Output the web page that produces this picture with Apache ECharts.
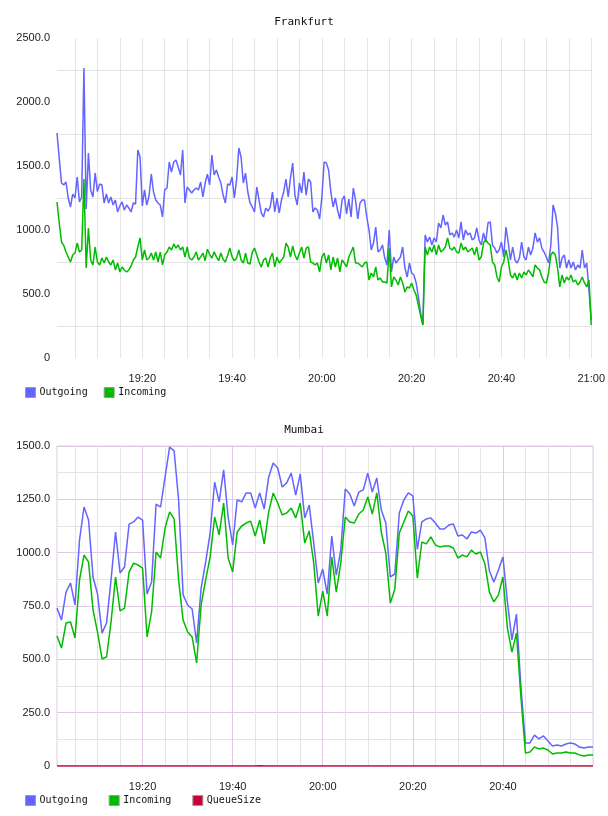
<!DOCTYPE html>
<html lang="en">
<head>
    <meta charset="UTF-8">
    <title>Frankfurt / Mumbai</title>
    <script src="https://cdn.jsdelivr.net/npm/echarts@6/dist/echarts.min.js"></script>
    <style>
        body { margin: 0; background: #fff; }
        .box { width: 608px; height: 408px; }
    </style>
</head>
<body>
<div id="main" class="box"></div>
<div id="main1" class="box"></div>
<script type="text/javascript">
    // minutes since midnight, 19:01 .. 21:00
    var xStart = 1141, xEnd = 1260;
    var timeLabels = [1160, 1180, 1200, 1220, 1240, 1260];
    var minorTimes = [1145, 1150, 1155, 1160, 1165, 1170, 1175, 1180, 1185, 1190, 1195, 1200, 1205, 1210, 1215, 1220, 1225, 1230, 1235, 1240, 1245, 1250, 1255, 1260];
    var majorTimes = [1160, 1180, 1200, 1220, 1240];

    // Frankfurt, one sample every 30 s
    var frankfurtStep = 0.5;
    var frankfurtOutgoing = [
        1758, 1560, 1367, 1352, 1375, 1250, 1180, 1281, 1250, 1414, 1219, 1258, 2266, 1164, 1602, 1313, 1258, 1445, 1300, 1359,
        1352, 1211, 1281, 1211, 1258, 1195, 1234, 1141, 1188, 1219, 1156, 1195, 1172, 1141, 1211, 1203, 1625, 1570, 1188, 1313,
        1195, 1266, 1437, 1297, 1234, 1211, 1195, 1102, 1313, 1328, 1531, 1453, 1531, 1547, 1492, 1430, 1625, 1211, 1336, 1313,
        1289, 1313, 1328, 1313, 1375, 1258, 1367, 1437, 1352, 1586, 1430, 1469, 1414, 1367, 1273, 1211, 1359, 1352, 1414, 1250,
        1391, 1641, 1570, 1367, 1445, 1297, 1211, 1180, 1141, 1336, 1234, 1133, 1102, 1170, 1148, 1180, 1297, 1141, 1250, 1133,
        1234, 1297, 1398, 1258, 1406, 1523, 1273, 1195, 1367, 1289, 1453, 1273, 1398, 1375, 1141, 1172, 1156, 1086, 1258, 1531,
        1523, 1469, 1297, 1180, 1250, 1156, 1086, 1234, 1266, 1125, 1242, 1102, 1328, 1234, 1086, 1211, 1234, 1234, 1102, 1000,
        844, 898, 1023, 828, 844, 883, 781, 727, 1000, 672, 789, 742, 766, 789, 867, 703, 633, 742, 664, 648,
        586, 477, 350, 258, 961, 906, 945, 883, 938, 906, 1055, 1016, 1117, 1039, 1063, 961, 977, 945, 1000, 938,
        1063, 922, 1000, 961, 977, 922, 938, 1016, 922, 883, 977, 906, 1055, 1063, 883, 859, 820, 844, 906, 789,
        1023, 906, 766, 867, 766, 742, 781, 906, 789, 766, 867, 805, 859, 977, 906, 938, 859, 828, 789, 742,
        883, 1195, 1133, 1023, 703, 781, 805, 703, 766, 703, 750, 688, 727, 703, 844, 703, 742, 531, 297
    ];
    var frankfurtIncoming = [
        1219, 1055, 906, 880, 828, 789, 750, 805, 820, 898, 828, 844, 1398, 703, 1016, 766, 727, 867, 750, 727,
        781, 742, 789, 750, 727, 766, 688, 742, 672, 711, 688, 672, 688, 719, 766, 789, 867, 938, 766, 844,
        766, 781, 820, 766, 828, 750, 828, 727, 805, 828, 867, 844, 891, 859, 883, 844, 867, 789, 867, 781,
        766, 789, 828, 766, 790, 820, 760, 850, 810, 780, 830, 790, 760, 820, 770, 750, 800, 860, 790, 760,
        780, 844, 766, 742, 820, 742, 734, 828, 859, 805, 750, 711, 766, 781, 711, 781, 820, 711, 789, 742,
        766, 789, 898, 867, 789, 875, 805, 766, 820, 867, 781, 859, 867, 750, 742, 727, 742, 672, 789, 820,
        742, 805, 688, 789, 711, 781, 672, 766, 742, 711, 789, 828, 867, 742, 742, 727, 711, 742, 750, 609,
        664, 633, 711, 609, 625, 594, 594, 586, 859, 555, 633, 609, 570, 633, 586, 516, 555, 547, 586, 531,
        492, 414, 330, 258, 867, 805, 867, 828, 883, 805, 883, 828, 844, 867, 938, 859, 844, 867, 828, 820,
        898, 844, 867, 828, 844, 859, 805, 867, 766, 789, 898, 922, 898, 883, 750, 727, 633, 594, 711, 750,
        844, 766, 648, 625, 664, 609, 664, 625, 672, 648, 688, 664, 633, 727, 703, 688, 633, 594, 586, 664,
        805, 828, 805, 703, 555, 648, 586, 633, 609, 648, 594, 609, 570, 594, 633, 586, 555, 609, 258
    ];

    // Mumbai, one sample per minute
    var mumbaiStep = 1;
    var mumbaiOutgoing = [
        740, 684, 815, 858, 755, 1059, 1214, 1153, 886, 806, 623, 670, 872, 1097, 905, 933, 1134, 1144, 1167, 1153,
        806, 862, 1228, 1214, 1355, 1495, 1477, 1247, 802, 755, 736, 577, 834, 956, 1092, 1331, 1238, 1388, 1167, 1036,
        1247, 1238, 1280, 1280, 1209, 1280, 1205, 1355, 1420, 1397, 1308, 1327, 1373, 1270, 1369, 1163, 1223, 1045, 858, 923,
        806, 1078, 895, 1012, 1298, 1275, 1219, 1284, 1294, 1373, 1284, 1350, 1200, 1139, 886, 900, 1186, 1247, 1280, 1266,
        1015, 1144, 1158, 1163, 1139, 1111, 1111, 1130, 1134, 1078, 1083, 1064, 1097, 1092, 1106, 1069, 914, 862, 919, 980,
        769, 591, 712, 370, 108, 108, 145, 127, 141, 117, 94, 98, 94, 103, 108, 103, 89, 84, 89, 89
    ];
    var mumbaiIncoming = [
        609, 553, 670, 675, 600, 872, 989, 956, 731, 628, 502, 511, 675, 886, 727, 740, 909, 951, 942, 928,
        605, 722, 1003, 975, 1116, 1191, 1158, 872, 684, 628, 605, 483, 755, 872, 980, 1167, 1083, 1233, 975, 909,
        1097, 1125, 1139, 1148, 1078, 1153, 1041, 1191, 1280, 1233, 1177, 1186, 1209, 1163, 1233, 1045, 1102, 951, 703, 820,
        703, 980, 815, 951, 1167, 1144, 1139, 1181, 1200, 1261, 1181, 1280, 1097, 998, 764, 829, 1092, 1144, 1195, 1172,
        880, 1050, 1041, 1074, 1036, 1027, 1031, 1031, 1022, 975, 989, 980, 1012, 994, 1003, 947, 815, 769, 802, 886,
        647, 534, 623, 323, 61, 66, 89, 80, 84, 75, 56, 61, 61, 66, 61, 61, 52, 47, 52, 52
    ];
    var mumbaiQueue = [
        0, 0, 0, 0, 0, 0, 0, 0, 0, 0, 0, 0, 0, 0, 0, 0, 0, 0, 0, 0,
        0, 0, 0, 0, 0, 0, 0, 0, 0, 0, 0, 0, 0, 0, 0, 0, 0, 0, 0, 0,
        0, 0, 0, 0, 0, 1, 0, 0, 0, 0, 0, 0, 0, 0, 0, 0, 0, 0, 0, 0,
        0, 0, 0, 0, 0, 0, 0, 0, 0, 0, 0, 0, 0, 0, 0, 0, 0, 0, 0, 0,
        0, 0, 0, 0, 0, 0, 0, 0, 0, 0, 0, 0, 0, 0, 0, 0, 0, 0, 0, 0,
        0, 0, 0, 0, 0, 0, 0, 0, 0, 0, 0, 0, 0, 0, 0, 0, 0, 0, 0, 0
    ];

    var seriesColors = {Outgoing: '#6464ff', Incoming: '#00bb00', QueueSize: '#cc0033'};
    var gray = '#e4e4e4';
    var purple = '#dfc8e2';
    var axisFont = {fontFamily: 'Liberation Sans', fontSize: 11, color: '#222'};

    function pairs(values, step) {
        var out = [];
        for (var i = 0; i < values.length; i++) {
            out.push([xStart + i * step, values[i]]);
        }
        return out;
    }

    function hhmm(v) {
        var h = Math.floor(v / 60), m = Math.round(v % 60);
        return h + ':' + (m < 10 ? '0' + m : m);
    }

    function lineSeries(name, values, step) {
        return {
            name: name,
            type: 'line',
            data: pairs(values, step),
            showSymbol: false,
            animation: false,
            color: seriesColors[name],
            lineStyle: {width: 1.5, color: seriesColors[name]}
        };
    }

    function buildOption(title, yMax, yInterval, mumbaiStyle, labels, series, gap) {
        var xAxes = [{
            type: 'value',
            min: xStart,
            max: xEnd,
            axisLine: {show: false},
            axisTick: {show: false, customValues: minorTimes},
            axisLabel: Object.assign({customValues: labels, margin: 15, formatter: hhmm}, axisFont),
            splitLine: {show: true, lineStyle: {color: gray, width: 1}}
        }];
        if (mumbaiStyle) {
            xAxes.push({
                type: 'value',
                min: xStart,
                max: xEnd,
                position: 'top',
                axisLine: {show: false},
                axisTick: {show: false, customValues: majorTimes},
                axisLabel: {show: false},
                splitLine: {show: true, lineStyle: {color: purple, width: 1}}
            });
        }
        return {
            animation: false,
            title: {
                text: title,
                left: 'center',
                top: 12,
                textStyle: {fontFamily: 'DejaVu Sans Mono', fontSize: 11, fontWeight: 'normal', color: '#111'}
            },
            legend: {
                left: 25,
                top: 387,
                padding: 0,
                itemWidth: 10,
                itemHeight: 10,
                itemGap: gap,
                icon: 'rect',
                itemStyle: {borderColor: '#999', borderWidth: 1},
                textStyle: {fontFamily: 'DejaVu Sans Mono', fontSize: 10, color: '#111', padding: [0, 0, 0, -1]},
                data: series.map(function (s) { return s.name; })
            },
            grid: {
                left: 57,
                right: 15,
                top: 38,
                height: 320,
                show: mumbaiStyle,
                borderColor: purple,
                borderWidth: 1
            },
            xAxis: xAxes,
            yAxis: {
                type: 'value',
                min: 0,
                max: yMax,
                interval: yInterval,
                axisLine: {show: false},
                axisTick: {show: false},
                axisLabel: Object.assign({
                    margin: 7,
                    formatter: function (v) { return v === 0 ? '0' : v.toFixed(1); }
                }, axisFont),
                splitLine: {show: mumbaiStyle, lineStyle: {color: purple, width: 1}},
                minorTick: {show: false, splitNumber: 2},
                minorSplitLine: {show: true, lineStyle: {color: gray, width: 1}}
            },
            series: series
        };
    }

    var myChart = echarts.init(document.getElementById('main'));
    myChart.setOption(buildOption('Frankfurt', 2500, 500, false, timeLabels, [
        lineSeries('Outgoing', frankfurtOutgoing, frankfurtStep),
        lineSeries('Incoming', frankfurtIncoming, frankfurtStep)
    ], 16));

    var myChart2 = echarts.init(document.getElementById('main1'));
    myChart2.setOption(buildOption('Mumbai', 1500, 250, true, timeLabels.slice(0, 5), [
        lineSeries('Outgoing', mumbaiOutgoing, mumbaiStep),
        lineSeries('Incoming', mumbaiIncoming, mumbaiStep),
        lineSeries('QueueSize', mumbaiQueue, mumbaiStep)
    ], 21));
</script>
</body>
</html>
